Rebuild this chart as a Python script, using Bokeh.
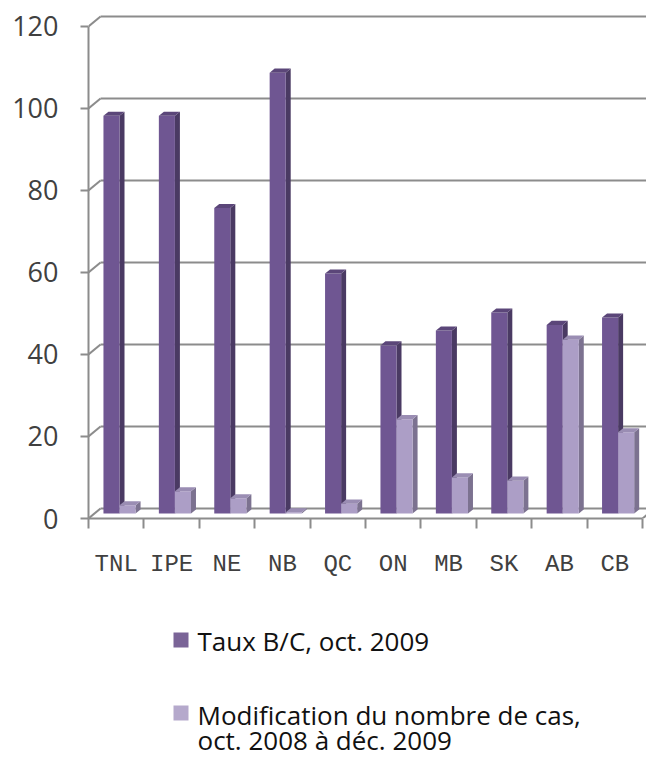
from bokeh.plotting import figure
from bokeh.layouts import column
from bokeh.models import FixedTicker, Range1d
from bokeh.core.properties import value
from bokeh.embed import file_html
from bokeh.resources import INLINE

# ---- data ----
provinces = ["TNL", "IPE", "NE", "NB", "QC", "ON", "MB", "SK", "AB", "CB"]
taux_bc = [97, 97, 74.5, 107.5, 58.5, 41, 44.6, 49, 46, 47.8]
modif_cas = [2, 5.4, 3.7, 0.3, 2.4, 23, 8.8, 8, 42.4, 19.8]
y_ticks = [0, 20, 40, 60, 80, 100, 120]
series_names = ["Taux B/C, oct. 2009", "Modification du nombre de cas,\noct. 2008 à déc. 2009"]

# ---- styling / geometry (not data) ----
W = 646
LEFT = 88
H1 = 596
H2 = 756 - H1
PX_PER_X = 55.4
DX, DY = 0.217, 2.44          # back-wall depth offset (data units)
BASE = 1.22                   # bar base (mid depth)
SDX, SDY = 0.09, 1.0          # bar side depth
GRID = "#8C8C8C"
TXT = "#404040"
dark = dict(front="#6F5692", side="#4A3A63", top="#5B4679")
light = dict(front="#AC9EC6", side="#7C7290", top="#9A8DB3")

n = len(provinces)
x_end = (W - LEFT) / PX_PER_X
p = figure(width=W, height=H1, output_backend="svg", toolbar_location=None,
           x_range=Range1d(0, x_end), y_range=Range1d(0, 123.4),
           min_border_left=LEFT, min_border_right=0, min_border_top=12,
           min_border_bottom=H1 - 518)
p.outline_line_color = None
p.xgrid.visible = False
p.ygrid.visible = False

# back-wall gridlines and diagonals
p.segment(x0=[DX] * len(y_ticks), y0=[t + DY for t in y_ticks],
          x1=[n + DX] * len(y_ticks), y1=[t + DY for t in y_ticks],
          line_color=GRID, line_width=2)
p.segment(x0=[0] * len(y_ticks), y0=y_ticks,
          x1=[DX] * len(y_ticks), y1=[t + DY for t in y_ticks],
          line_color=GRID, line_width=2)
# floor right edge
p.segment(x0=[n], y0=[0], x1=[n + DX], y1=[DY], line_color=GRID, line_width=2)


def bars(vals, x0off, x1off, col):
    xs_s, ys_s, xs_t, ys_t = [], [], [], []
    for i, v in enumerate(vals):
        a, b = i + x0off, i + x1off
        top = BASE + v
        xs_s.append([b, b + SDX, b + SDX, b])
        ys_s.append([BASE, BASE + SDY, top + SDY, top])
        xs_t.append([a, b, b + SDX, a + SDX])
        ys_t.append([top, top, top + SDY, top + SDY])
    p.patches(xs_s, ys_s, fill_color=col["side"], line_color=None)
    p.vbar(x=[i + (x0off + x1off) / 2 for i in range(len(vals))], width=x1off - x0off,
           bottom=BASE, top=[BASE + v for v in vals], fill_color=col["front"], line_color=None)
    p.patches(xs_t, ys_t, fill_color=col["top"], line_color=None)


bars(taux_bc, 0.27, 0.56, dark)
bars(modif_cas, 0.56, 0.85, light)

# axes
p.yaxis.ticker = FixedTicker(ticks=y_ticks)
p.yaxis.bounds = (0, 120)
p.yaxis.axis_line_color = GRID
p.yaxis.axis_line_width = 2
p.yaxis.major_tick_line_color = GRID
p.yaxis.major_tick_line_width = 2
p.yaxis.major_tick_out = 8
p.yaxis.major_tick_in = 0
p.yaxis.minor_tick_line_color = None
p.yaxis.major_label_standoff = 22
p.yaxis.major_label_text_font = "Open Sans"
p.yaxis.major_label_text_font_size = "27px"
p.yaxis.major_label_text_color = TXT

centers = [i + 0.5 for i in range(n)]
p.xaxis.ticker = FixedTicker(ticks=centers, minor_ticks=list(range(n + 1)))
p.xaxis.major_label_overrides = {c: name for c, name in zip(centers, provinces)}
p.xaxis.bounds = (0, n)
p.xaxis.axis_line_color = GRID
p.xaxis.axis_line_width = 2
p.xaxis.major_tick_line_color = None
p.xaxis.major_tick_out = 0
p.xaxis.major_tick_in = 0
p.xaxis.minor_tick_line_color = GRID
p.xaxis.minor_tick_line_width = 2
p.xaxis.minor_tick_out = 10
p.xaxis.minor_tick_in = 0
p.xaxis.major_label_standoff = 22
p.xaxis.major_label_text_font = "Liberation Mono"
p.xaxis.major_label_text_font_size = "24px"
p.xaxis.major_label_text_color = TXT

# ---- legend panel (frame aligned with the chart: pixel-for-pixel coordinates) ----
q = figure(width=W, height=H2, output_backend="svg", toolbar_location=None,
           x_range=Range1d(LEFT, W), y_range=Range1d(H2, 0),
           min_border_left=LEFT, min_border_right=0, min_border_top=0, min_border_bottom=0,
           x_axis_type=None, y_axis_type=None)
q.outline_line_color = None
q.xgrid.visible = False
q.ygrid.visible = False
q.rect(x=[180.5, 180.5], y=[639.5 - H1, 712.5 - H1], width=15, height=15,
       fill_color=["#7A6497", "#B5A9CC"], line_color=None)
lines = [series_names[0]] + series_names[1].split("\n")
q.text(x=[197, 197, 197], y=[640 - H1, 714 - H1, 739 - H1], text=lines,
       text_font=value("Open Sans"), text_font_size="26px", text_color="#111111",
       text_baseline="alphabetic", text_align="left")

layout = column(p, q, spacing=0)
open("out.html", "w").write(file_html(layout, INLINE))
